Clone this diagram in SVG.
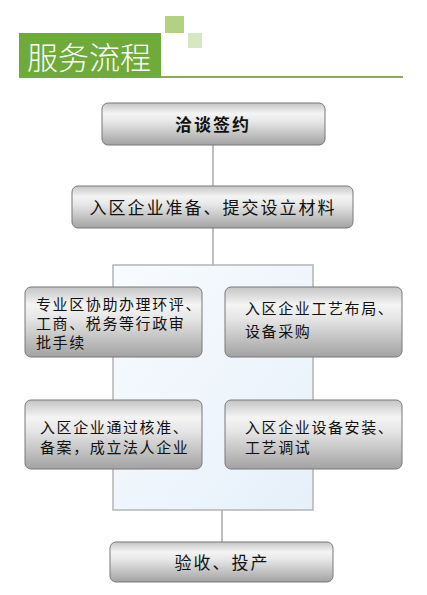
<svg xmlns="http://www.w3.org/2000/svg" width="427" height="595" viewBox="0 0 427 595">
<defs>
<linearGradient id="box" x1="0" y1="0" x2="0" y2="1">
<stop offset="0" stop-color="#c4c4c4"/>
<stop offset="0.25" stop-color="#f4f4f4"/>
<stop offset="0.45" stop-color="#e6e6e6"/>
<stop offset="1" stop-color="#a2a2a2"/>
</linearGradient>
<linearGradient id="panel" x1="0" y1="0" x2="1" y2="1">
<stop offset="0" stop-color="#f8fbfe"/>
<stop offset="1" stop-color="#e6f0fa"/>
</linearGradient>
<style>
.b{fill:url(#box);stroke:#787878;stroke-width:1}
.t{font-family:"Noto Sans CJK SC","Noto Sans CJK JP",sans-serif;fill:#111;font-size:15px;letter-spacing:1.6px}
.h{font-size:17px;letter-spacing:2px}
.c{stroke:#a8a8a8;stroke-width:1.5;fill:none}
</style>
</defs>
<rect width="427" height="595" fill="#fff"/>
<g id="title">
<rect x="165" y="16" width="19" height="17" fill="#b2d282"/>
<rect x="188" y="33" width="14" height="15" fill="#d5e8bf"/>
<rect x="19" y="33" width="142" height="45" fill="#6fab3a"/>
<line x1="161" y1="77" x2="403" y2="77" stroke="#8fa860" stroke-width="2"/>
<text x="27" y="69" font-family="'Noto Sans CJK SC',sans-serif" font-size="31" fill="#fff" font-weight="300">服务流程</text>
</g>
<g id="connectors">
<line class="c" x1="213" y1="145" x2="213" y2="186"/>
<line class="c" x1="213" y1="228" x2="213" y2="266"/>
<line class="c" x1="222" y1="510" x2="222" y2="542"/>
</g>
<g id="panel">
<rect x="113" y="265" width="200" height="245" fill="url(#panel)" stroke="#b4b4b4" stroke-width="1.5"/>
</g>
<g id="n1">
<rect class="b" x="102" y="103" width="223" height="42" rx="6"/>
<text class="t h" x="213" y="131" text-anchor="middle" font-weight="bold">洽谈签约</text>
</g>
<g id="n2">
<rect class="b" x="72" y="186" width="281" height="42" rx="6"/>
<text class="t h" x="213" y="214" text-anchor="middle">入区企业准备、提交设立材料</text>
</g>
<g id="n3">
<rect class="b" x="25" y="287" width="177" height="70" rx="6"/>
<text class="t" x="36" y="310">专业区协助办理环评、</text>
<text class="t" x="36" y="329">工商、税务等行政审</text>
<text class="t" x="36" y="348">批手续</text>
</g>
<g id="n4">
<rect class="b" x="225" y="287" width="177" height="70" rx="6"/>
<text class="t" x="245" y="314">入区企业工艺布局、</text>
<text class="t" x="245" y="337">设备采购</text>
</g>
<g id="n5">
<rect class="b" x="25" y="400" width="177" height="69" rx="6"/>
<text class="t" x="40" y="433">入区企业通过核准、</text>
<text class="t" x="40" y="453">备案，成立法人企业</text>
</g>
<g id="n6">
<rect class="b" x="225" y="400" width="177" height="69" rx="6"/>
<text class="t" x="245" y="433">入区企业设备安装、</text>
<text class="t" x="245" y="453">工艺调试</text>
</g>
<g id="n7">
<rect class="b" x="110" y="542" width="223" height="40" rx="6"/>
<text class="t h" x="222" y="569" text-anchor="middle">验收、投产</text>
</g>
</svg>
